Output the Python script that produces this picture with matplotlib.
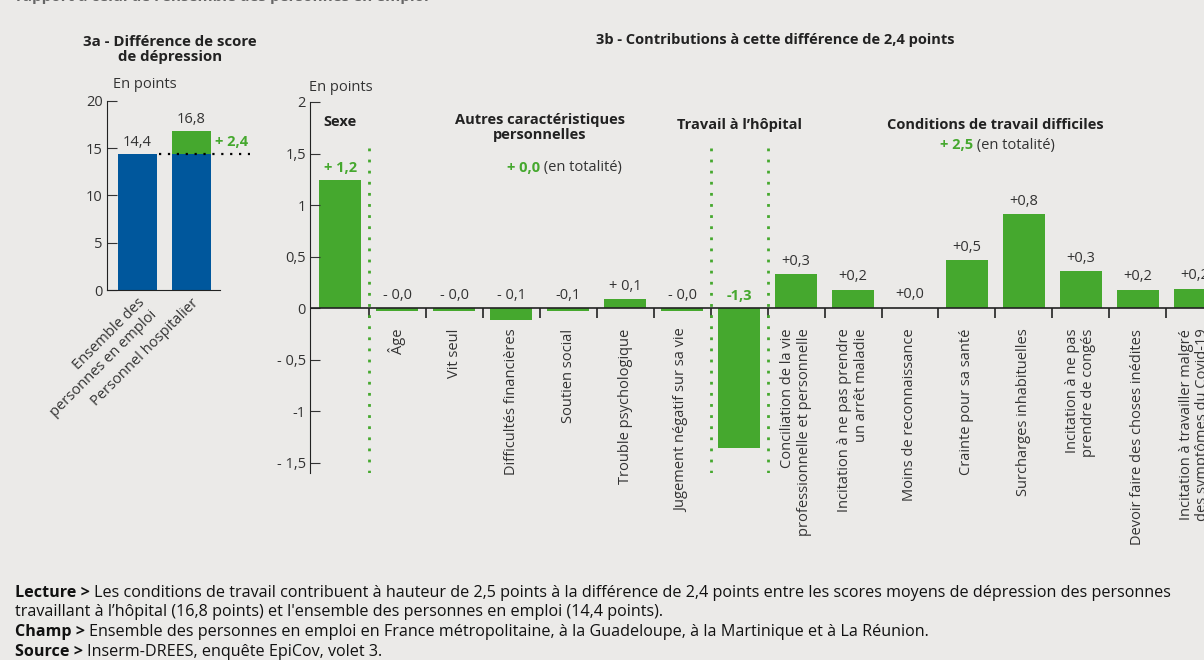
import matplotlib.pyplot as plt
import numpy as np

# 3a - scores de dépression
groupes = ['Ensemble des\npersonnes en emploi', 'Personnel hospitalier']
scores = [14.4, 16.8]
ecart = 2.4

# 3b - contributions à la différence
categories = ['Sexe', 'Âge', 'Vit seul', 'Difficultés financières', 'Soutien social',
              'Trouble psychologique', 'Jugement négatif sur sa vie', '',
              'Conciliation de la vie\nprofessionnelle et personnelle',
              'Incitation à ne pas prendre\nun arrêt maladie', 'Moins de reconnaissance',
              'Crainte pour sa santé', 'Surcharges inhabituelles',
              'Incitation à ne pas\nprendre de congés', 'Devoir faire des choses inédites',
              'Incitation à travailler malgré\ndes symptômes du Covid-19']
contributions = [1.24, -0.025, -0.025, -0.115, -0.025, 0.09, -0.025, -1.36,
                 0.33, 0.18, 0.005, 0.47, 0.91, 0.36, 0.18, 0.19]
etiquettes = ['+ 1,2', '- 0,0', '- 0,0', '- 0,1', '-0,1', '+ 0,1', '- 0,0', '-1,3',
              '+0,3', '+0,2', '+0,0', '+0,5', '+0,8', '+0,3', '+0,2', '+0,2']
separateurs = [0.5, 6.5, 7.5]

vert = '#45A82E'
bleu = '#00579C'
texte = '#333333'
fond = '#EBEAE8'

plt.rcParams['font.family'] = ['Open Sans', 'DejaVu Sans']

fig = plt.figure(figsize=(12.04, 6.6), dpi=100, facecolor=fond)

# titre coupé en haut (comme sur l'original)
fig.text(0.013, 1.005, "rapport à celui de l'ensemble des personnes en emploi",
         fontsize=11, fontweight='bold', color='#666666', va='center')

# ---------- 3a ----------
ax1 = fig.add_axes([0.0889, 0.5606, 0.0939, 0.2864])
ax1.set_facecolor(fond)
x1 = np.arange(len(groupes))
ax1.bar(x1, [scores[0], scores[0]], width=0.73, color=bleu)
ax1.bar(x1[1], scores[1] - scores[0], bottom=scores[0], width=0.73, color=vert)
ax1.set_xlim(-0.57, 1.54)
ax1.set_ylim(0, 20)
ax1.set_yticks([0, 5, 10, 15, 20])
ax1.tick_params(axis='y', direction='in', length=7, labelsize=10.5, colors=texte, pad=3)
ax1.tick_params(axis='x', length=0, pad=4)
ax1.set_xticks(x1)
ax1.set_xticklabels(groupes, rotation=45, ha='right', rotation_mode='anchor',
                    fontsize=10.5, color=texte, multialignment='right')
for s in ['top', 'right']:
    ax1.spines[s].set_visible(False)
ax1.spines['left'].set_color('#222222')
ax1.spines['bottom'].set_color('#222222')
ax1.plot([0.4, 2.1], [scores[0], scores[0]], ls=(0, (1, 3)), color='black', lw=1.6,
         clip_on=False)
for xi, v in zip(x1, scores):
    ax1.text(xi, v + 0.4, f'{v:.1f}'.replace('.', ','), ha='center', va='bottom',
             fontsize=10.5, color=texte)
ax1.text(1.45, scores[0] + ecart / 2 + 0.1, f'+ {ecart:.1f}'.replace('.', ','),
         color=vert, fontsize=10.5, fontweight='bold', va='center', ha='left', clip_on=False)
ax1.text(-0.45, 21.0, 'En points', fontsize=10.5, color=texte, va='bottom', ha='left')
fig.text(0.1412, 0.925, '3a - Différence de score\nde dépression', ha='center', va='center',
         fontsize=10.8, fontweight='bold', color='#222222', linespacing=1.15)

# ---------- 3b ----------
ax2 = fig.add_axes([0.2575, 0.2833, 0.7425, 0.5622])
ax2.set_facecolor(fond)
x2 = np.arange(len(categories))
ax2.bar(x2, contributions, width=0.73, color=vert)
ax2.set_xlim(-0.53, 15.16)
ax2.set_ylim(-1.6, 2)
ax2.set_yticks([-1.5, -1, -0.5, 0, 0.5, 1, 1.5, 2])
ax2.set_yticklabels(['- 1,5', '-1', '- 0,5', '0', '0,5', '1', '1,5', '2'])
ax2.tick_params(axis='y', direction='in', length=7, labelsize=10.5, colors=texte, pad=3)
ax2.set_xticks([])
for s in ['top', 'right', 'bottom']:
    ax2.spines[s].set_visible(False)
ax2.spines['left'].set_color('#222222')
ax2.axhline(0, color='#222222', lw=1.2)
ax2.vlines(np.arange(0.5, 15.5, 1), -0.1, 0, color='#222222', lw=1.2)
ax2.vlines(separateurs, -1.6, 1.6, colors=vert, linestyles=(0, (1, 3)), lw=2)

for i, (v, lab) in enumerate(zip(contributions, etiquettes)):
    couleur = vert if i in (0, 7) else texte
    poids = 'bold' if i in (0, 7) else 'normal'
    y = max(v, 0) + 0.05
    ax2.text(i, y, lab, ha='center', va='bottom', fontsize=10.5, color=couleur,
             fontweight=poids)
    if not categories[i] or i == 0:
        continue
    ax2.text(i, -0.2, categories[i], rotation=90, ha='center', va='top', fontsize=10.5,
             color=texte, multialignment='right', linespacing=1.1, clip_on=False)

# titres des groupes
ax2.text(0, 1.81, 'Sexe', ha='center', va='center', fontsize=10.5, fontweight='bold',
         color='#222222')
ax2.text(3.5, 1.75, 'Autres caractéristiques\npersonnelles', ha='center', va='center',
         fontsize=10.5, fontweight='bold', color='#222222', linespacing=1.1)
ax2.text(3.5, 1.36, '+ 0,0', ha='right', va='center', fontsize=10.5, fontweight='bold',
         color=vert)
ax2.text(3.5, 1.36, ' (en totalité)', ha='left', va='center', fontsize=10.5, color=texte)
ax2.text(7, 1.78, 'Travail à l\u2019hôpital', ha='center', va='center', fontsize=10.5,
         fontweight='bold', color='#222222')
ax2.text(11.5, 1.78, 'Conditions de travail difficiles', ha='center', va='center',
         fontsize=10.5, fontweight='bold', color='#222222')
ax2.text(11.1, 1.58, '+ 2,5', ha='right', va='center', fontsize=10.5, fontweight='bold',
         color=vert)
ax2.text(11.1, 1.58, ' (en totalité)', ha='left', va='center', fontsize=10.5, color=texte)
ax2.text(-0.55, 2.07, 'En points', fontsize=10.5, color=texte, va='bottom', ha='left')
fig.text(0.644, 0.94, '3b - Contributions à cette différence de 2,4 points', ha='center',
         va='center', fontsize=10.5, fontweight='bold', color='#222222')

# notes
notes = [
    ('Lecture > ', 'Les conditions de travail contribuent à hauteur de 2,5 points à la différence de 2,4 points entre les scores moyens de dépression des personnes'),
    ('', 'travaillant à l\u2019hôpital (16,8 points) et l\'ensemble des personnes en emploi (14,4 points).'),
    ('Champ > ', 'Ensemble des personnes en emploi en France métropolitaine, à la Guadeloupe, à la Martinique et à La Réunion.'),
    ('Source > ', 'Inserm-DREES, enquête EpiCov, volet 3.'),
]
for k, (gras, reste) in enumerate(notes):
    y = 1 - (593 + 19.5 * k) / 660
    t = fig.text(0.0125, y, gras, fontsize=11.6, fontweight='bold', color='#111111',
                 va='center')
    fig.canvas.draw()
    bb = t.get_window_extent()
    x = (bb.x1 / fig.dpi) / 12.04 if gras else 0.0125
    fig.text(x, y, reste, fontsize=11.6, color='#111111', va='center')

fig.savefig('out.png', dpi=100, facecolor=fond)
